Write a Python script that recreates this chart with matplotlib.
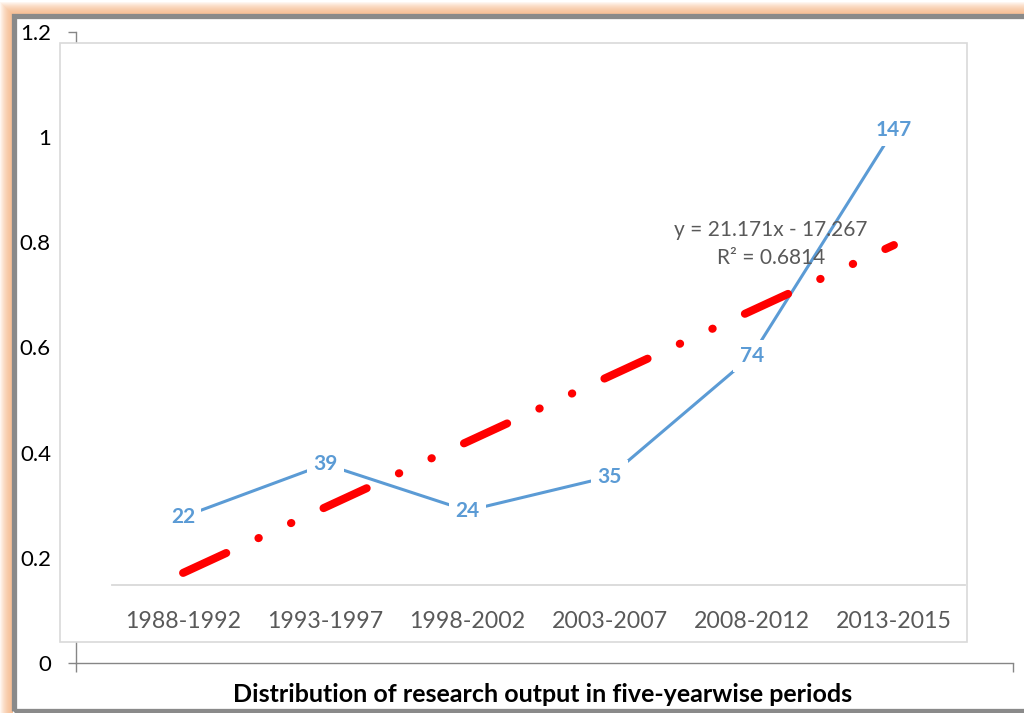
import numpy as np
import matplotlib.pyplot as plt
from matplotlib.patches import Rectangle

plt.rcParams['font.family'] = ['Lato', 'DejaVu Sans']

# data
periods = ['1988-1992', '1993-1997', '1998-2002', '2003-2007', '2008-2012', '2013-2015']
output = [22, 39, 24, 35, 74, 147]
outer_yticks = [0, 0.2, 0.4, 0.6, 0.8, 1.0, 1.2]
outer_ylabels = ['0', '0.2', '0.4', '0.6', '0.8', '1', '1.2']
xtitle = 'Distribution of research output in five-yearwise periods'

W, H = 1024, 713
fig = plt.figure(figsize=(W / 100, H / 100), dpi=100)
fig.patch.set_facecolor('white')


def fx(px):
    return px / W


def fy(py):
    return 1 - py / H


# orange glow around the frame
for i in range(12):
    fig.add_artist(Rectangle((fx(11 - i), fy(1000)), fx(1100), fy(13 - i) - fy(1000),
                             facecolor='#F7B07A', edgecolor='none', alpha=0.11, zorder=0.1))
# white inside frame
fig.add_artist(Rectangle((fx(13), fy(713)), fx(1100), fy(15) - fy(713),
                         facecolor='white', edgecolor='none', zorder=0.2))
# gray frame
fig.add_artist(Rectangle((fx(13.5), fy(710.5)), fx(1100), fy(15.5) - fy(710.5),
                         facecolor='none', edgecolor='#8A8A8A', linewidth=3.8, zorder=0.3))

# outer axes (0-1.2 scale, mostly hidden)
ax0 = fig.add_axes([fx(76), fy(663), fx(1013 - 76), fy(32) - fy(663)])
ax0.set_facecolor('none')
ax0.set_zorder(0.5)
ax0.set_ylim(0, 1.2)
ax0.set_xlim(0, 1)
ax0.set_yticks(outer_yticks)
ax0.set_yticklabels(outer_ylabels, fontsize=16, color='black')
ax0.set_xticks([0, 1])
ax0.set_xticklabels(['', ''])
for s in ['top', 'right']:
    ax0.spines[s].set_visible(False)
for s in ['left', 'bottom']:
    ax0.spines[s].set_color('#868686')
    ax0.spines[s].set_linewidth(1.0)
ax0.tick_params(axis='y', length=6, width=1.0, color='#868686', pad=12)
ax0.tick_params(axis='x', length=6.5, width=1.0, color='#868686')
ax0.set_xlabel(xtitle, fontsize=18, fontweight='bold', labelpad=4)
ax0.xaxis.set_label_coords(fx(543 - 76) / fx(1013 - 76), (fy(694) - fy(663)) / (fy(32) - fy(663)))
ax0.xaxis.label.set_va('center')

# inner chart box
fig.add_artist(Rectangle((fx(60), fy(642)), fx(967 - 60), fy(43) - fy(642),
                         facecolor='white', edgecolor='#D9D9D9', linewidth=1.2, zorder=1))

# inner plot area
ax = fig.add_axes([fx(112), fy(585), fx(965 - 112), fy(43) - fy(585)])
ax.set_zorder(2)
ax.set_facecolor('none')
x = np.arange(1, len(periods) + 1)
ax.set_xlim(0.5, len(periods) + 0.5)
ax.set_ylim(0, 175)
for s in ['top', 'right', 'left']:
    ax.spines[s].set_visible(False)
ax.spines['bottom'].set_color('#D9D9D9')
ax.spines['bottom'].set_linewidth(1.3)
ax.set_yticks([])
ax.set_xticks(x)
ax.set_xticklabels(periods, fontsize=16.7, color='#595959')
ax.tick_params(axis='x', length=0, pad=19)

ax.plot(x, output, color='#5B9BD5', linewidth=2.2, zorder=3)
for xi, v in zip(x, output):
    ax.text(xi, v, str(v), ha='center', va='center', fontsize=15, fontweight='bold',
            color='#5B9BD5', zorder=4,
            bbox=dict(boxstyle='square,pad=0.3', facecolor='white', edgecolor='none'))

# linear trendline
slope, intercept = np.polyfit(x, output, 1)
fit = slope * x + intercept
r2 = 1 - np.sum((np.array(output) - fit) ** 2) / np.sum((np.array(output) - np.mean(output)) ** 2)
ax.plot(x, fit, color='#FF0000', linewidth=5.8, solid_capstyle='round', dash_capstyle='round',
        linestyle=(0, (5.9, 4.4, 0.05, 4.4, 0.05, 4.4)), zorder=5)

ax.text(0.7726, 0.655, 'y = %.3fx - %.3f' % (slope, -intercept), transform=ax.transAxes,
        ha='center', va='center', fontsize=15, color='#595959', zorder=6)
ax.text(0.7726, 0.603, 'R² = %.4f' % r2, transform=ax.transAxes,
        ha='center', va='center', fontsize=15, color='#595959', zorder=6)

fig.savefig('out.png', dpi=100)
